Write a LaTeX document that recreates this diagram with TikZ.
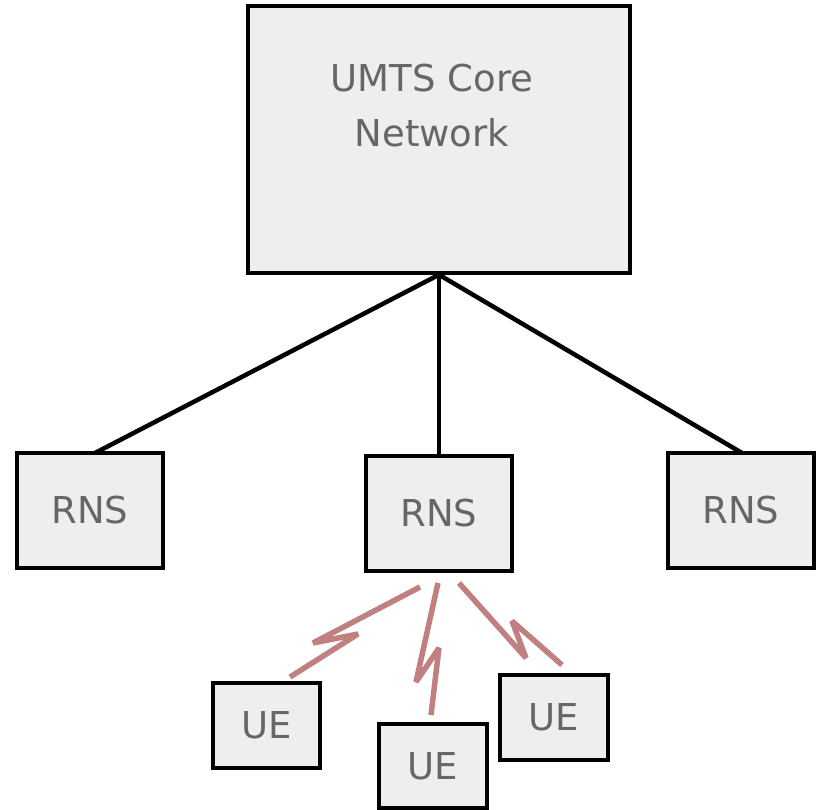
\documentclass[tikz,border=0pt]{standalone}
\usepackage{fontspec}
\setmainfont{DejaVu Sans}
\definecolor{boxfill}{HTML}{EEEEEE}
\definecolor{labelgray}{HTML}{666666}
\definecolor{radio}{HTML}{C08080}
\begin{document}
\begin{tikzpicture}[x=1pt,y=-1pt,
  label font/.style={font=\fontsize{37}{55}\selectfont, text=labelgray},
  box/.style={draw=black, line width=3.5pt, fill=boxfill, inner sep=0pt,
    label font, align=center},
  link/.style={draw=black, line width=4.5pt},
  bolt/.style={draw=radio, line width=5.5pt, line join=miter, miter limit=3}]
\useasboundingbox (0,0) rectangle (817,810);
% core network
\node[box, minimum width=382pt, minimum height=267pt] (core) at (439,139.5) {};
\node[label font, align=center] (coretext) at (432,106) {UMTS Core\\Network};
% radio network subsystems
\node[box, minimum width=146pt, minimum height=115pt] (rnsL) at (90,510.5) {RNS};
\node[box, minimum width=146pt, minimum height=115pt] (rnsM) at (439,513.5) {RNS};
\node[box, minimum width=146pt, minimum height=115pt] (rnsR) at (741,510.5) {RNS};
% user equipment
\node[box, minimum width=107pt, minimum height=85pt] (ueL) at (266.5,725.5) {UE};
\node[box, minimum width=108pt, minimum height=84pt] (ueM) at (433,766) {UE};
\node[box, minimum width=108pt, minimum height=85pt] (ueR) at (554,717.5) {UE};
% wired links
\coordinate (hub) at (core.south);
\draw[link] (hub) -- (95,453) coordinate (tL);
\draw[link] (hub) -- (rnsM.north);
\draw[link] (hub) -- (742,453) coordinate (tR);
% radio links
\draw[bolt] (420,587) -- (313,643) -- (358,634) -- (290,677);
\draw[bolt] (438,583) -- (416,682) -- (439,648) -- (431,715);
\draw[bolt] (459,583) -- (526,658) -- (512,621) -- (562,665);
\end{tikzpicture}
\end{document}
